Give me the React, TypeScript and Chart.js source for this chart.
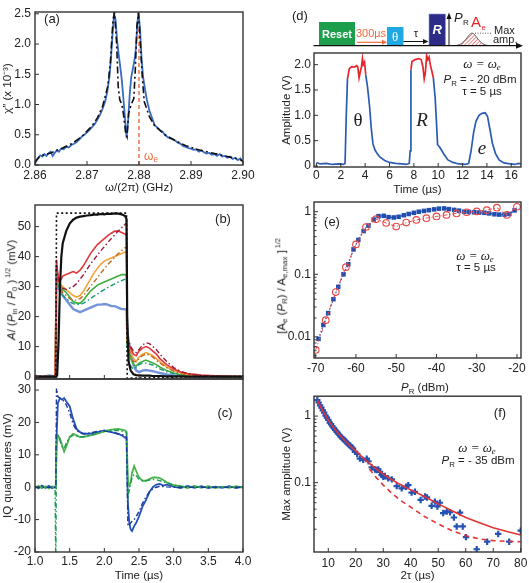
import React, { useEffect, useRef } from "react";
import { Chart, registerables } from "chart.js";

Chart.register(...registerables);

const SANS = "'Liberation Sans', Arial, Helvetica, sans-serif";
const SERIF = "'Liberation Serif', 'Times New Roman', serif";
Chart.defaults.font.family = SANS;
Chart.defaults.font.size = 12;
Chart.defaults.color = "#222";

// ---------------- Panel (a) ----------------
const aXTicks = [2.86, 2.87, 2.88, 2.89, 2.9];
const aYTicks = [0, 0.5, 1.0, 1.5, 2.0, 2.5];
const aExp: number[][] = [
  [2.86, 0.02], [2.8603, 0.08], [2.8606, 0.12], [2.861, 0.16], [2.8614, 0.14], [2.8618, 0.18], [2.8622, 0.15], [2.8626, 0.19], [2.863, 0.22], [2.8634, 0.15],
  [2.8638, 0.2], [2.8642, 0.24], [2.8646, 0.22], [2.865, 0.27], [2.8655, 0.26], [2.866, 0.3], [2.8665, 0.29], [2.867, 0.33], [2.8675, 0.35], [2.868, 0.38],
  [2.8685, 0.42], [2.869, 0.47], [2.8695, 0.5], [2.87, 0.54], [2.8705, 0.58], [2.871, 0.63], [2.8715, 0.68], [2.872, 0.75], [2.8725, 0.83], [2.873, 0.93],
  [2.8735, 1.05], [2.8739, 1.22], [2.8743, 1.45], [2.8746, 1.75], [2.8749, 2.15], [2.8752, 2.5], [2.8755, 2.4], [2.8758, 2.05], [2.8761, 1.82], [2.8764, 1.62],
  [2.8767, 1.4], [2.877, 1.1], [2.8773, 0.78], [2.8776, 0.45], [2.8779, 0.72], [2.8782, 1.15], [2.8785, 1.45], [2.8788, 1.58], [2.8791, 1.72], [2.8794, 1.92],
  [2.8797, 2.35], [2.8799, 2.52], [2.8802, 2.25], [2.8805, 1.75], [2.8808, 1.45], [2.8811, 1.28], [2.8815, 1.08], [2.882, 0.9], [2.8825, 0.78], [2.883, 0.66],
  [2.8835, 0.62], [2.884, 0.58], [2.8845, 0.55], [2.885, 0.5], [2.8855, 0.46], [2.886, 0.44], [2.8865, 0.43], [2.887, 0.4], [2.8875, 0.37], [2.888, 0.35],
  [2.8885, 0.31], [2.889, 0.3], [2.8895, 0.28], [2.89, 0.27], [2.8905, 0.25], [2.891, 0.26], [2.8915, 0.22], [2.892, 0.24], [2.8925, 0.21], [2.893, 0.19],
  [2.8935, 0.2], [2.894, 0.17], [2.8945, 0.18], [2.895, 0.15], [2.8955, 0.18], [2.896, 0.14], [2.8965, 0.15], [2.897, 0.12], [2.8975, 0.14], [2.898, 0.1],
  [2.8985, 0.12], [2.899, 0.08], [2.8995, 0.11], [2.9, 0.04],
];
const aTheoryF = [2.86, 2.861, 2.863, 2.865, 2.867, 2.869, 2.871, 2.872, 2.873, 2.874, 2.8745, 2.875, 2.8753, 2.8757, 2.876, 2.8763, 2.8767, 2.877, 2.8774, 2.8777, 2.878, 2.8785, 2.879, 2.8793, 2.8796, 2.8799, 2.8802, 2.8806, 2.881, 2.882, 2.883, 2.885, 2.887, 2.889, 2.891, 2.893, 2.895, 2.897, 2.899, 2.9];
const aTheory = [0.05, 0.15, 0.2, 0.27, 0.35, 0.47, 0.65, 0.78, 0.97, 1.3, 1.7, 2.4, 2.52, 2.0, 1.3, 1.08, 1.0, 0.85, 0.55, 0.47, 0.85, 1.0, 1.1, 1.6, 2.3, 2.52, 2.1, 1.5, 1.05, 0.8, 0.65, 0.5, 0.4, 0.32, 0.26, 0.22, 0.18, 0.14, 0.1, 0.07];
const aOmegaE = [[2.88, 0], [2.88, 2.25]];

// ---------------- Panel (b) ----------------
const bcXTicks = [1.0, 1.5, 2.0, 2.5, 3.0, 3.5, 4.0];
const bYTicks = [0, 10, 20, 30, 40, 50];
const bTime = [
  1.0, 1.1, 1.2, 1.29, 1.3, 1.31, 1.32, 1.34, 1.36, 1.38,
  1.4, 1.45, 1.5, 1.55, 1.6, 1.65, 1.7, 1.75, 1.8, 1.85,
  1.9, 1.95, 2.0, 2.05, 2.1, 2.15, 2.2, 2.25, 2.3, 2.32,
  2.33, 2.35, 2.38, 2.42, 2.46, 2.5, 2.55, 2.6, 2.65, 2.7,
  2.75, 2.8, 2.9, 3.0, 3.1, 3.2, 3.4, 3.6, 3.8, 4.0,
];
const bBlack = [
  0, 0, 0, 0, 0, 0, 0.5, 12, 30, 40,
  44.5, 48.5, 51, 52.3, 53, 53.3, 53.5, 53.7, 53.8, 54,
  54, 54.2, 54.1, 54.3, 54.2, 54.4, 54.3, 54.1, 53.5, 52.5,
  20, 5, 2, 0.8, 0.5, 0.4, 0.3, 0.3, 0.3, 0.2,
  0.2, 0.2, 0.1, 0.1, 0.1, 0, 0, 0, 0, 0,
];
const bBlackFit = [
  0, 0, 0, 0, 0, 54.5, 54.5, 54.5, 54.5, 54.5,
  54.5, 54.5, 54.5, 54.5, 54.5, 54.5, 54.5, 54.5, 54.5, 54.5,
  54.5, 54.5, 54.5, 54.5, 54.5, 54.5, 54.5, 54.5, 54.5, 54.5,
  -0.6, -0.6, -0.5, -0.5, -0.5, -0.5, -0.4, -0.4, -0.4, -0.3,
  -0.3, -0.3, -0.2, -0.2, -0.1, -0.1, 0, 0, 0, 0,
];
const bRed = [
  0, 0, 0, 0, 0, 39, 36, 33, 32, 32.5,
  33.5, 34, 34.5, 35, 34.5, 35.5, 37, 39, 41, 42.5,
  44, 45, 46, 47, 47.8, 48.5, 48.5, 48, 47.5, 47,
  14, 11, 9.5, 7.5, 7, 8.5, 9.5, 10, 9.5, 8.5,
  7.5, 6, 4, 2.5, 1.5, 1, 0.5, 0.3, 0.1, 0,
];
const bRedFit = [
  0, 0, 0, 0, 0, 38, 35, 32, 31, 30,
  29.5, 29, 29.5, 30, 31, 32.5, 34, 35.8, 37.5, 39,
  40.5, 42, 43.3, 44.7, 46, 47.2, 48.5, 49.6, 50.8, 51,
  14, 12, 10, 8.5, 8, 9, 10.5, 11.3, 11, 10,
  9, 7.5, 5, 3, 1.8, 1, 0.3, 0.1, 0, 0,
];
const bOrange = [
  0, 0, 0, 0, 0, 37, 34, 31.5, 31, 30.5,
  30, 29, 28, 27, 26.5, 27, 28.5, 30.5, 32.5, 34.5,
  36, 37.5, 38.5, 39, 39.5, 40, 40.5, 41, 41.5, 41.5,
  12, 10, 8, 6, 5, 6.5, 7.5, 8, 7.5, 7,
  6, 5, 3.2, 2, 1.2, 0.7, 0.3, 0.1, 0, 0,
];
const bOrangeFit = [
  0, 0, 0, 0, 0, 36, 33, 31, 30, 29,
  28, 27, 26, 25.5, 25.5, 26, 27, 28.5, 30, 31.5,
  33, 34.5, 36, 37.3, 38.5, 39.8, 41, 42, 43, 43,
  12, 10, 7, 5, 5, 6, 7, 7.5, 7.2, 6.5,
  5.5, 4.5, 3, 1.8, 1, 0.5, 0.2, 0, 0, 0,
];
const bGreen = [
  0, 0, 0, 0, 0, 36, 33, 31, 30.5, 30,
  29, 28, 26.5, 25, 24.5, 24.5, 25.5, 27, 28.5, 29.5,
  30.5, 31, 31.5, 32, 32.5, 33, 33.5, 34, 34, 33.5,
  10, 9, 6, 4, 3.5, 4.5, 5, 5.5, 5, 4.5,
  4, 3.2, 2, 1.2, 0.6, 0.3, 0.1, 0, 0, 0,
];
const bGreenFit = [
  0, 0, 0, 0, 0, 35, 32, 30, 29, 28,
  27, 26, 25, 24.3, 24, 24, 24.5, 25.2, 26, 26.8,
  27.5, 28.3, 29, 29.7, 30.3, 30.9, 31.5, 32, 32.5, 32.5,
  8, 6, 3.5, 2.5, 3, 4, 4.5, 4.5, 4.2, 3.8,
  3.2, 2.6, 1.6, 1, 0.5, 0.2, 0, 0, 0, 0,
];
const bBlue = [
  0.3, -0.2, 0.4, 0.1, 0, 36, 32, 29.5, 28.5, 28,
  27, 25.5, 24, 22.5, 22, 21.5, 22, 22.5, 23, 23.5,
  24, 24, 24.2, 24, 23.5, 23.5, 23, 22.5, 22.5, 22,
  15, 12, 8, 4, 2, 1.5, 2, 2.2, 2, 1.8,
  1.5, 1.2, 0.7, 0.4, 0.2, 0.1, 0, 0.1, 0, 0,
];

// ---------------- Panel (c) ----------------
const cYTicks = [-20, -10, 0, 10, 20, 30];
const cTime = [
  1.0, 1.05, 1.1, 1.15, 1.2, 1.25, 1.29, 1.3, 1.31, 1.33,
  1.36, 1.39, 1.42, 1.45, 1.5, 1.55, 1.6, 1.65, 1.7, 1.8,
  1.9, 2.0, 2.1, 2.2, 2.25, 2.3, 2.32, 2.34, 2.36, 2.38,
  2.4, 2.43, 2.46, 2.5, 2.55, 2.6, 2.65, 2.7, 2.75, 2.8,
  2.85, 2.9, 3.0, 3.1, 3.2, 3.3, 3.4, 3.5, 3.6, 3.7,
  3.8, 3.9, 4.0,
];
const cI = [
  0.3, -0.4, 0.5, -0.2, 0.4, -0.3, 0.2, 0, 15, 26,
  27.5, 27, 27.5, 26.5, 25, 21, 18, 17, 16.5, 16.5,
  17, 17.5, 17, 16.5, 16, 15.3, 15, -5, -11, -13,
  -13.5, -12, -11, -9, -6, -4, -1.5, 0, 0.8, 1,
  0.5, 0.8, 0.2, -0.3, 0.4, -0.2, 0.3, -0.3, 0.2, -0.2,
  0.3, -0.3, 0.2,
];
const cIFit = [
  0, 0, 0, 0, 0, 0, 0, 0, 30.5, 28,
  27.5, 27, 26.5, 25.5, 23, 19.5, 17.5, 16.8, 16.5, 16.8,
  17.2, 17.4, 17, 16.5, 16.2, 16, 15.5, -12, -11.5, -11,
  -10.5, -10, -9, -7.5, -5, -3, -1.5, -0.5, 0, 0.3,
  0.2, 0.1, 0, 0, 0, 0, 0, 0, 0, 0,
  0, 0, 0,
];
const cQ = [
  -0.3, 0.4, -0.3, 0.3, -0.4, 0.3, -0.2, 0, 12, 16,
  15, 13, 11, 12.5, 15.5, 16.5, 16, 15.5, 15.5, 16,
  16.5, 17.3, 17.8, 18, 17.8, 17.5, 17, 2, 0.5, 1.5,
  4.5, 6.5, 5, 3, 2, 2, 2.5, 3, 3, 2.8,
  2.2, 1.5, 0.6, 0.3, -0.3, 0.4, -0.2, 0.3, -0.3, 0.2,
  -0.2, 0.3, -0.2,
];
const cQFit = [
  0, 0, 0, 0, 0, 0, 0, -25, 16.5, 16,
  14.5, 12.5, 12, 13.5, 15.5, 16, 15.8, 15.6, 15.6, 16,
  16.6, 17.2, 17.5, 17.5, 17.3, 17, 17, -3, -1, 1,
  3, 4, 3.5, 2.5, 2, 2, 2.2, 2.4, 2.3, 2,
  1.7, 1.3, 0.7, 0.3, 0.1, 0, 0, 0, 0, 0,
  0, 0, 0,
];

// ---------------- Panel (d) ----------------
const dXTicks = [0, 2, 4, 6, 8, 10, 12, 14, 16];
const dYTicks = [0, 0.5, 1.0, 1.5, 2.0];
const dTime = [
  0, 0.3, 0.8, 1.3, 1.8, 2.2, 2.35, 2.45, 2.55, 2.7,
  2.9, 3.1, 3.3, 3.4, 3.5, 3.6, 3.7, 3.78, 3.85, 3.95,
  4.05, 4.2, 4.37, 4.5, 4.64, 4.8, 5.0, 5.2, 5.6, 6.0,
  6.5, 7.0, 7.4, 7.62, 7.7, 7.76, 7.85, 8.1, 8.4, 8.6,
  8.75, 8.85, 8.95, 9.05, 9.15, 9.25, 9.35, 9.5, 9.6, 9.75,
  9.85, 9.95, 10.1, 10.3, 10.5, 10.8, 11.2, 11.7, 12.2, 12.5,
  12.7, 12.9, 13.1, 13.35, 13.6, 13.85, 14.05, 14.25, 14.45, 14.7,
  15.0, 15.4, 15.9, 16.3, 16.6, 16.8,
];
const dAmp = [
  0.07, 0.04, 0.05, 0.03, 0.04, 0.03, 0.05, 1.0, 1.72, 1.92,
  1.96, 1.95, 1.98, 1.95, 1.74, 1.86, 1.96, 2.12, 2.0, 2.05,
  1.8, 1.55, 1.16, 0.75, 0.44, 0.32, 0.24, 0.18, 0.11, 0.07,
  0.05, 0.04, 0.03, 0.05, 0.3, 1.9, 2.06, 2.1, 2.12, 2.1,
  1.95, 1.72, 1.85, 2.18, 2.1, 2.15, 2.0, 1.85, 1.74, 1.35,
  0.9, 0.42, 0.38, 0.3, 0.22, 0.12, 0.07, 0.04, 0.03, 0.05,
  0.3, 0.65, 0.88, 1.0, 1.04, 1.05, 0.98, 0.72, 0.45, 0.25,
  0.12, 0.06, 0.04, 0.03, 0.05, 0.04,
];

// ---------------- Panel (e) ----------------
const eXTicks = [-70, -60, -50, -40, -30, -20];
const eYTicks = [0.01, 0.1, 1];
const eBlueX = [
  -69.3, -68.1, -66.9, -65.6, -64.4, -63.1, -61.9, -60.6, -59.4, -58.1,
  -56.9, -55.6, -54.4, -53.1, -51.9, -50.6, -49.4, -48.1, -46.9, -45.6,
  -44.4, -43.1, -41.9, -40.6, -39.4, -38.1, -36.9, -35.6, -34.4, -33.1,
  -31.9, -30.6, -29.4, -28.1, -26.9, -25.6, -24.4, -23.1, -21.9, -20.6,
];
const eBlueY = [
  0.0093, 0.0155, 0.024, 0.04, 0.063, 0.1, 0.145, 0.25, 0.355, 0.49,
  0.6, 0.75, 0.85, 0.86, 0.82, 0.81, 0.83, 0.88, 0.92, 0.96,
  1.0, 1.03, 1.06, 1.09, 1.12, 1.13, 1.1, 1.07, 1.04, 1.0,
  0.99, 0.98, 0.97, 0.96, 0.94, 0.91, 0.9, 0.9, 0.92, 1.05,
];
const eRedX = [-70, -67.5, -65, -62.5, -60, -57.5, -55, -52.5, -50, -47.5, -45, -42.5, -40, -37.5, -35, -32.5, -30, -27.5, -25, -22.5, -20];
const eRedY = [0.0062, 0.0185, 0.052, 0.13, 0.3, 0.57, 0.76, 0.66, 0.58, 0.67, 0.74, 0.79, 0.84, 0.89, 0.94, 0.98, 1.01, 1.06, 1.16, 0.89, 1.2];

// ---------------- Panel (f) ----------------
const fXTicks = [10, 20, 30, 40, 50, 60, 70, 80];
const fYTicks = [0.1, 1];
const fFitX = [6, 8, 10, 12, 14, 16, 18, 20, 22, 24, 26, 28, 30, 32, 35, 40, 45, 50, 55, 60, 65, 70, 75, 80];
const fFitY = [1.72, 1.2, 0.87, 0.66, 0.53, 0.43, 0.355, 0.3, 0.25, 0.21, 0.18, 0.155, 0.135, 0.118, 0.1, 0.078, 0.062, 0.048, 0.038, 0.03, 0.025, 0.021, 0.0185, 0.0164];
const fDashX = [25, 27, 30, 33, 36, 40, 45, 50, 55, 60, 65, 70, 75, 80];
const fDashY = [0.16, 0.125, 0.092, 0.07, 0.055, 0.043, 0.031, 0.024, 0.019, 0.016, 0.0143, 0.0135, 0.0131, 0.013];
const fPtsX = [
  6, 6.5, 7, 7.5, 8, 8.5, 9, 9.5, 10, 10.5,
  11, 11.5, 12, 12.5, 13, 13.5, 14, 14.5, 15, 15.5,
  16, 16.5, 17, 17.5, 18, 18.5, 19, 19.7, 20.5, 21.5,
  22.7, 24.0, 24.6, 25.8, 27.0, 27.6, 28.2, 28.8, 29.4, 30.0,
  30.6, 31.8, 33.1, 34.9, 36.7, 38.3, 39.1, 40.3, 41.5, 43.6,
  45.2, 45.9, 47.6, 48.8, 49.7, 50.6, 51.8, 53.1, 54.3, 55.7,
  56.7, 57.9, 58.9, 60.1, 64.0, 67.8, 71.8, 75.8, 80.0,
];
const fPtsY = [
  1.74, 1.6, 1.45, 1.34, 1.22, 1.13, 1.02, 0.95, 0.88, 0.8,
  0.76, 0.7, 0.66, 0.62, 0.585, 0.55, 0.525, 0.49, 0.47, 0.45,
  0.43, 0.41, 0.39, 0.37, 0.36, 0.34, 0.325, 0.29, 0.27, 0.23,
  0.22, 0.23, 0.21, 0.17, 0.158, 0.155, 0.158, 0.146, 0.13, 0.123,
  0.126, 0.116, 0.112, 0.089, 0.082, 0.087, 0.092, 0.071, 0.073, 0.055,
  0.062, 0.06, 0.045, 0.052, 0.044, 0.05, 0.035, 0.037, 0.036, 0.03,
  0.022, 0.0355, 0.022, 0.0152, 0.01, 0.013, 0.017, 0.013, 0.019,
];

// ---------------- helpers ----------------
const xy = (xs: number[], ys: number[]) => xs.map((x, i) => ({ x, y: ys[i] }));
const pairs = (p: number[][]) => p.map(([x, y]) => ({ x, y }));

type Box = { cx: number; cy: number; cw: number; ch: number; L: number; T: number; R: number; B: number };
type AxisSpec = {
  min: number; max: number; ticks: number[]; fmt: (v: number) => string;
  title?: string; log?: boolean; showLabels?: boolean; pad?: number; titlePad?: number;
};

const framePlugin = {
  id: "frameTicks",
  afterDraw(chart: any) {
    const { ctx, chartArea: a } = chart;
    ctx.save();
    ctx.strokeStyle = "#333";
    ctx.lineWidth = 1;
    const mark = (s: any, v: number, len: number) => {
      const p = s.getPixelForValue(v);
      if (s.isHorizontal()) {
        if (p < a.left - 0.5 || p > a.right + 0.5) return;
        ctx.beginPath();
        ctx.moveTo(p, a.bottom);
        ctx.lineTo(p, a.bottom - len);
        ctx.stroke();
      } else {
        if (p < a.top - 0.5 || p > a.bottom + 0.5) return;
        ctx.beginPath();
        ctx.moveTo(a.left, p);
        ctx.lineTo(a.left + len, p);
        ctx.stroke();
      }
    };
    for (const s of Object.values(chart.scales) as any[]) {
      s.ticks.forEach((t: any) => mark(s, t.value, 4));
      if (s.type === "logarithmic") {
        const e0 = Math.floor(Math.log10(s.min));
        const e1 = Math.ceil(Math.log10(s.max));
        for (let e = e0; e <= e1; e++) {
          for (let k = 2; k <= 9; k++) {
            const v = k * Math.pow(10, e);
            if (v > s.min && v < s.max) mark(s, v, 2.5);
          }
        }
      }
    }
    ctx.lineWidth = 1.4;
    ctx.strokeRect(a.left, a.top, a.right - a.left, a.bottom - a.top);
    ctx.restore();
  },
};

function axis(box: Box, a: AxisSpec, horizontal: boolean) {
  return {
    type: a.log ? "logarithmic" : "linear",
    position: horizontal ? "bottom" : "left",
    min: a.min,
    max: a.max,
    grid: { display: false, drawTicks: false },
    border: { display: false },
    ticks: {
      display: a.showLabels !== false,
      padding: a.pad ?? 3,
      autoSkip: false,
      maxRotation: 0,
      minRotation: 0,
      color: "#222",
      font: { size: 12 },
      callback: (v: any) => a.fmt(Number(v)),
    },
    title: a.title
      ? {
          display: true,
          text: a.title,
          color: "#222",
          font: { size: 11.5 },
          padding: horizontal ? { top: 0, bottom: a.titlePad ?? 0 } : { top: a.titlePad ?? 2, bottom: 0 },
        }
      : { display: false },
    afterBuildTicks: (s: any) => {
      s.ticks = a.ticks.map((v) => ({ value: v }));
    },
    afterFit: (s: any) => {
      if (horizontal) s.height = box.cy + box.ch - box.B;
      else s.width = box.L - box.cx;
      s.paddingLeft = 0;
      s.paddingRight = 0;
      s.paddingTop = 0;
      s.paddingBottom = 0;
    },
  };
}

function makeConfig(box: Box, datasets: any[], xa: AxisSpec, ya: AxisSpec) {
  return {
    type: "line",
    data: { datasets },
    options: {
      animation: false,
      responsive: false,
      maintainAspectRatio: false,
      devicePixelRatio: 1,
      events: [],
      layout: { padding: { left: 0, top: box.T - box.cy, right: box.cx + box.cw - box.R, bottom: 0 } },
      plugins: { legend: { display: false }, tooltip: { enabled: false }, title: { display: false } },
      elements: { point: { radius: 0 }, line: { tension: 0 } },
      scales: { x: axis(box, xa, true), y: axis(box, ya, false) },
    },
    plugins: [framePlugin],
  };
}

const line = (data: any[], color: string, width: number, dash: number[] = [], extra: any = {}) => ({
  data, borderColor: color, borderWidth: width, borderDash: dash, pointRadius: 0, fill: false, tension: 0, ...extra,
});

function ChartPanel({ box, config }: { box: Box; config: any }) {
  const ref = useRef<HTMLCanvasElement>(null);
  useEffect(() => {
    const chart = new Chart(ref.current as HTMLCanvasElement, config);
    return () => chart.destroy();
  }, []);
  return (
    <canvas
      ref={ref}
      width={box.cw}
      height={box.ch}
      style={{ position: "absolute", left: box.cx, top: box.cy, width: box.cw, height: box.ch }}
    />
  );
}

const Lbl = ({ x, y, size = 12, style = {}, children }: any) => (
  <div
    style={{
      position: "absolute", left: x, top: y, transform: "translate(-50%,-50%)",
      whiteSpace: "nowrap", fontSize: size, lineHeight: 1, fontFamily: SANS, color: "#222", ...style,
    }}
  >
    {children}
  </div>
);
const VLbl = ({ x, y, size = 11.5, children }: any) => (
  <div
    style={{
      position: "absolute", left: x, top: y, transform: "translate(-50%,-50%) rotate(-90deg)",
      whiteSpace: "nowrap", fontSize: size, lineHeight: 1, fontFamily: SANS, color: "#222",
    }}
  >
    {children}
  </div>
);
const Sub = ({ children }: any) => (
  <span style={{ fontSize: "0.68em", verticalAlign: "-0.3em", lineHeight: 0 }}>{children}</span>
);
const Sup = ({ children }: any) => (
  <span style={{ fontSize: "0.62em", verticalAlign: "0.65em", lineHeight: 0 }}>{children}</span>
);
const I = ({ children }: any) => <span style={{ fontStyle: "italic" }}>{children}</span>;

// ---------------- colours ----------------
const C = {
  aBlue: "#3a6bc2", black: "#111", eRed: "#ee6a3a",
  red: "#e0373c", darkRed: "#9c1838", orange: "#f2a33a", brown: "#bb6a22",
  green: "#3fae3f", teal: "#17977a", lightBlue: "rgba(100,135,215,0.9)",
  cBlue: "#2450b8", cGreen: "#4bb34b", cBlueFit: "#1b3a9c", cGreenFit: "#1c9a55",
  dBlue: "#2a5db2", dRed: "#e8232b", eBlue: "#1f4db0", eRed2: "#e84545", fBlue: "#2452b4", fRed: "#e23434",
};
const DASHDOT = [5, 2.5, 1.5, 2.5];

// ---------------- boxes ----------------
const boxA: Box = { cx: 0, cy: 0, cw: 258, ch: 197, L: 35, T: 12, R: 243, B: 165 };
const boxB: Box = { cx: 0, cy: 195, cw: 258, ch: 185, L: 35, T: 205, R: 243, B: 379 };
const boxC: Box = { cx: 0, cy: 377, cw: 258, ch: 206, L: 35, T: 379, R: 243, B: 552 };
const boxD: Box = { cx: 278, cy: 48, cw: 251, ch: 152, L: 314, T: 53, R: 521, B: 167 };
const boxE: Box = { cx: 278, cy: 195, cw: 251, ch: 183, L: 314, T: 202, R: 521, B: 358 };
const boxF: Box = { cx: 278, cy: 390, cw: 251, ch: 193, L: 314, T: 396, R: 521, B: 552 };

const fmtInt = (v: number) => String(v);
const fmt1 = (v: number) => v.toFixed(1);

function configA() {
  return makeConfig(
    boxA,
    [
      line(xy(aTheoryF, aTheory), C.black, 1.6, [7, 3, 2, 3]),
      line(pairs(aOmegaE), C.eRed, 1.4, [4, 3]),
      line(pairs(aExp), C.aBlue, 1.8),
    ],
    { min: 2.86, max: 2.9, ticks: aXTicks, fmt: (v) => v.toFixed(2), title: "ω/(2π) (GHz)", pad: 3, titlePad: 2 },
    { min: 0, max: 2.53, ticks: aYTicks, fmt: fmt1, title: "χ\u2033 (x 10\u207B\u00B3)", pad: 4, titlePad: 1.4 }
  );
}

function configB() {
  return makeConfig(
    boxB,
    [
      line(xy(bTime, bBlackFit), C.black, 1.6, [2, 2.5]),
      line(xy(bTime, bBlack), C.black, 2.2),
      line(xy(bTime, bRedFit), C.darkRed, 1.4, DASHDOT),
      line(xy(bTime, bOrangeFit), C.brown, 1.4, DASHDOT),
      line(xy(bTime, bGreenFit), C.teal, 1.4, DASHDOT),
      line(xy(bTime, bRed), C.red, 1.6),
      line(xy(bTime, bOrange), C.orange, 1.6),
      line(xy(bTime, bGreen), C.green, 1.6),
      line(xy(bTime, bBlue), C.lightBlue, 2.4),
    ],
    { min: 1.0, max: 4.0, ticks: bcXTicks, fmt: fmt1, showLabels: false },
    { min: -0.8, max: 57.2, ticks: bYTicks, fmt: fmtInt, pad: 4 }
  );
}

function configC() {
  return makeConfig(
    boxC,
    [
      line(xy(cTime, cIFit), C.cBlueFit, 1.4, DASHDOT, { clip: 0 }),
      line(xy(cTime, cQFit), C.cGreenFit, 1.4, DASHDOT, { clip: 0 }),
      line(xy(cTime, cQ), C.cGreen, 1.8, [], { clip: 0 }),
      line(xy(cTime, cI), C.cBlue, 1.8, [], { clip: 0 }),
    ],
    { min: 1.0, max: 4.0, ticks: bcXTicks, fmt: fmt1, title: "Time (µs)", pad: 2, titlePad: 0 },
    { min: -20, max: 33.4, ticks: cYTicks, fmt: fmtInt, title: "IQ quadratures (mV)", pad: 4, titlePad: 1.4 }
  );
}

function configD() {
  return makeConfig(
    boxD,
    [
      line(xy(dTime, dAmp), C.dBlue, 1.7, [], {
        segment: {
          borderColor: (ctx: any) => (ctx.p0.parsed.y >= 1.7 && ctx.p1.parsed.y >= 1.7 ? C.dRed : undefined),
        },
      }),
    ],
    { min: -0.2, max: 16.8, ticks: dXTicks, fmt: fmtInt, title: "Time (µs)", pad: 1, titlePad: 3 },
    { min: -0.02, max: 2.23, ticks: dYTicks, fmt: (v) => (v === 0 ? "0" : v.toFixed(1)), title: "Amplitude (V)", pad: 3, titlePad: 1.8 }
  );
}

function configE() {
  return makeConfig(
    boxE,
    [
      line(xy(eRedX, eRedY), C.eRed2, 1, [4, 2, 1, 2], {
        pointStyle: "circle", pointRadius: 3.3, pointBorderColor: C.eRed2,
        pointBackgroundColor: "rgba(255,255,255,0)", pointBorderWidth: 1.1,
      }),
      line(xy(eBlueX, eBlueY), C.eBlue, 1.2, [1.5, 2], {
        pointStyle: "rect", pointRadius: 3.2, pointBackgroundColor: C.eBlue, pointBorderWidth: 0, pointBorderColor: C.eBlue,
      }),
    ],
    { min: -70.42, max: -19.0, ticks: eXTicks, fmt: fmtInt, pad: 3 },
    { min: 0.0046, max: 1.43, ticks: eYTicks, fmt: fmtInt, log: true, pad: 3 }
  );
}

function configF() {
  return makeConfig(
    boxF,
    [
      line(xy(fFitX, fFitY), C.fRed, 1.6),
      line(xy(fDashX, fDashY), C.fRed, 1.6, [5, 4]),
      {
        data: xy(fPtsX, fPtsY), showLine: false, pointStyle: "cross", pointRadius: 3.2,
        pointBorderWidth: 2.2, pointBorderColor: C.fBlue, pointBackgroundColor: C.fBlue, borderColor: C.fBlue,
      },
    ],
    { min: 4.8, max: 80.1, ticks: fXTicks, fmt: fmtInt, title: "2τ (µs)", pad: 4, titlePad: 0 },
    { min: 0.0091, max: 1.99, ticks: fYTicks, fmt: fmtInt, log: true, title: "Max amplitude (V)", pad: 3, titlePad: 1.8 }
  );
}

function Schematic() {
  const ax = 45.7;
  return (
    <svg width={259} height={52} style={{ position: "absolute", left: 270, top: 0 }} fontFamily={SANS}>
      <defs>
        <pattern id="hatch" width="2.6" height="2.6" patternUnits="userSpaceOnUse" patternTransform="rotate(45)">
          <line x1="0" y1="0" x2="0" y2="2.6" stroke="#e03030" strokeWidth="1.1" />
        </pattern>
      </defs>
      <text x={22} y={20} fontSize={13} fill="#222">(d)</text>
      <rect x={49} y={22} width={36} height={ax - 22} fill="#1d9e4c" />
      <text x={67} y={38} fontSize={11} fontWeight="bold" fill="#fff" textAnchor="middle">Reset</text>
      <text x={101} y={37} fontSize={11} fill="#f26b3a" textAnchor="middle">300µs</text>
      <line x1={87} y1={42.3} x2={113} y2={42.3} stroke="#f26b3a" strokeWidth={1.2} />
      <polygon points="117,42.3 112,39.8 112,44.8" fill="#f26b3a" />
      <rect x={117} y={27} width={16.5} height={ax - 27} fill="#20a8e2" />
      <text x={125.2} y={41} fontSize={13} fill="#fff" textAnchor="middle" fontFamily={SERIF}>θ</text>
      <line x1={133.5} y1={41.5} x2={154} y2={41.5} stroke="#111" strokeWidth={1} />
      <polygon points="158.5,41.5 153,39 153,44" fill="#111" />
      <text x={146} y={37} fontSize={11} fill="#222" textAnchor="middle">τ</text>
      <rect x={159} y={14} width={16.5} height={ax - 14} fill="#2c2c88" stroke="#8aa0d8" strokeWidth={0.6} />
      <text x={167.2} y={34} fontSize={13} fontWeight="bold" fontStyle="italic" fill="#fff" textAnchor="middle">R</text>
      <line x1={179} y1={ax} x2={179} y2={18} stroke="#111" strokeWidth={1} />
      <polygon points="179,12.5 176.5,19 181.5,19" fill="#111" />
      <text x={184} y={22} fontSize={13} fontStyle="italic" fill="#222">P</text>
      <text x={193} y={25} fontSize={8} fill="#222">R</text>
      <text x={201} y={27} fontSize={15} fill="#e02424">A</text>
      <text x={211.5} y={30} fontSize={8} fill="#e02424">e</text>
      <path d="M186,45.5 C195,45 198,33.5 202,33 C206,33.5 209,45 218,45.5 Z" fill="url(#hatch)" stroke="#444" strokeWidth={0.8} />
      <line x1={205} y1={33.2} x2={222} y2={33.2} stroke="#444" strokeWidth={0.9} strokeDasharray="1,1.5" />
      <text x={224} y={34} fontSize={11} fill="#222">Max</text>
      <text x={223} y={43} fontSize={11} fill="#222">amp.</text>
      <line x1={43.5} y1={ax} x2={248} y2={ax} stroke="#111" strokeWidth={1.2} />
      <polygon points="253,45.7 246,42.7 246,48.7" fill="#111" />
    </svg>
  );
}

export default function App() {
  const serifI = { fontFamily: SERIF, fontStyle: "italic" };
  return (
    <div
      style={{
        position: "absolute", left: 0, top: 0, width: 529, height: 583,
        background: "#fff", overflow: "hidden", fontFamily: SANS,
      }}
    >
      <ChartPanel box={boxA} config={configA()} />
      <ChartPanel box={boxB} config={configB()} />
      <ChartPanel box={boxC} config={configC()} />
      <ChartPanel box={boxD} config={configD()} />
      <ChartPanel box={boxE} config={configE()} />
      <ChartPanel box={boxF} config={configF()} />
      <Schematic />

      {/* panel labels */}
      <Lbl x={52} y={18} size={13}>(a)</Lbl>
      <Lbl x={223} y={218} size={13}>(b)</Lbl>
      <Lbl x={225} y={412} size={13}>(c)</Lbl>
      <Lbl x={332} y={221} size={13}>(e)</Lbl>
      <Lbl x={500} y={412} size={13}>(f)</Lbl>

      {/* (a) annotation */}
      <Lbl x={151} y={156} size={12} style={{ color: C.eRed }}>
        ω<Sub>e</Sub>
      </Lbl>

      {/* (b) y title */}
      <VLbl x={12} y={290}>
        <I>A</I>/ (<I>P</I>
        <Sub>in</Sub> / <I>P</I>
        <Sub>0</Sub> )<Sup> 1/2</Sup> (mV)
      </VLbl>

      {/* (d) annotations */}
      <Lbl x={358} y={119} size={19} style={{ fontFamily: SERIF }}>θ</Lbl>
      <Lbl x={422} y={119} size={19} style={serifI}>R</Lbl>
      <Lbl x={482} y={147} size={19} style={serifI}>e</Lbl>
      <Lbl x={482} y={63} size={13} style={serifI}>
        ω = ω<Sub>e</Sub>
      </Lbl>
      <Lbl x={480} y={80} size={11.5}>
        <I>P</I>
        <Sub>R</Sub> = - 20 dBm
      </Lbl>
      <Lbl x={482} y={92} size={11.5}>τ = 5 µs</Lbl>

      {/* (e) annotations */}
      <Lbl x={475} y={255} size={13} style={serifI}>
        ω = ω<Sub>e</Sub>
      </Lbl>
      <Lbl x={476} y={268} size={11.5}>τ = 5 µs</Lbl>
      <VLbl x={282} y={286}>
        [A<Sub>e</Sub> (<I>P</I>
        <Sub>R</Sub>) / A<Sub>e,max</Sub> ]<Sup> 1/2</Sup>
      </VLbl>
      <Lbl x={425} y={388} size={11.5}>
        <I>P</I>
        <Sub>R</Sub> (dBm)
      </Lbl>

      {/* (f) annotations */}
      <Lbl x={477} y={447} size={13} style={serifI}>
        ω = ω<Sub>e</Sub>
      </Lbl>
      <Lbl x={478} y={461} size={11.5}>
        <I>P</I>
        <Sub>R</Sub> = - 35 dBm
      </Lbl>
    </div>
  );
}
